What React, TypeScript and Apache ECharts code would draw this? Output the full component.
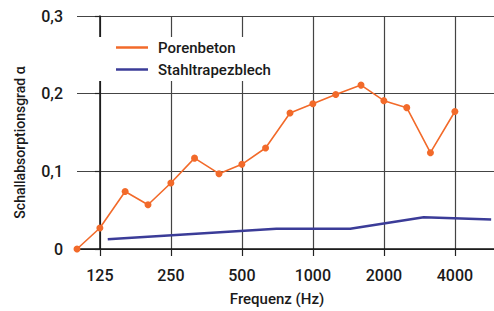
import React, { useEffect, useRef } from "react";
import * as echarts from "echarts";

// Data (1/3-octave band frequencies in Hz, absorption coefficient alpha)
const porenbetonFreq = [100, 125, 160, 200, 250, 315, 400, 500, 630, 800, 1000, 1250, 1600, 2000, 2500, 3150, 4000];
const porenbetonAlpha = [0, 0.027, 0.074, 0.057, 0.085, 0.117, 0.097, 0.109, 0.13, 0.175, 0.187, 0.199, 0.211, 0.191, 0.182, 0.124, 0.177];

const stahlFreq = [135, 700, 1440, 2950, 5700];
const stahlAlpha = [0.0125, 0.026, 0.026, 0.041, 0.038];

const xTickFreqs = [125, 250, 500, 1000, 2000, 4000];
const yTicks = [0, 0.1, 0.2, 0.3];

const seriesNames = ["Porenbeton", "Stahltrapezblech"];

const REF = 125;
const toX = (f: number) => Math.log2(f / REF);

const FONT = "Roboto";
const TEXT = "#1a1a1a";
const ORANGE = "#f26a2a";
const BLUE = "#3b3c98";

export default function App() {
  const ref = useRef<HTMLDivElement>(null);

  useEffect(() => {
    if (!ref.current) return;
    const chart = echarts.init(ref.current, null, { renderer: "svg" });
    const xTicks = xTickFreqs.map(toX);
    chart.setOption({
      animation: false,
      backgroundColor: "#ffffff",
      grid: { left: 77, top: 16, bottom: 55, right: 0, containLabel: false },
      legend: {
        orient: "vertical",
        left: 92,
        top: 37,
        padding: [3, 10, 4, 24],
        backgroundColor: "#ffffff",
        itemWidth: 32,
        itemHeight: 2.5,
        itemGap: 7,
        icon: "rect",
        data: seriesNames,
        textStyle: {
          fontFamily: FONT,
          fontSize: 15,
          fontWeight: 500,
          lineHeight: 15,
          color: TEXT,
          padding: [0, 0, 0, 5],
        },
      },
      xAxis: {
        type: "value",
        min: toX(100),
        max: toX(5860),
        name: "Frequenz (Hz)",
        nameLocation: "middle",
        nameGap: 42,
        nameTextStyle: { fontFamily: FONT, fontSize: 15, fontWeight: 500, color: TEXT, padding: [0, 17, 0, 0] },
        axisLine: { show: true, lineStyle: { color: "#111", width: 1.5 } },
        axisTick: { show: true, customValues: xTicks, length: 7, lineStyle: { color: "#222", width: 1.2 } },
        axisLabel: {
          customValues: xTicks,
          margin: 18,
          fontFamily: FONT,
          fontSize: 16,
          fontWeight: 500,
          color: TEXT,
          formatter: (v: number) => String(Math.round(REF * Math.pow(2, v))),
        },
        splitLine: { show: true, lineStyle: { color: "#444", width: 1.2 } },
      },
      yAxis: {
        type: "value",
        min: yTicks[0],
        max: yTicks[yTicks.length - 1],
        interval: 0.1,
        name: "Schallabsorptionsgrad α",
        nameLocation: "middle",
        nameGap: 50,
        nameTextStyle: { fontFamily: FONT, fontSize: 14, fontWeight: 500, color: TEXT, padding: [0, 20, 0, 0] },
        axisLine: { show: true, lineStyle: { color: "#111", width: 1.5 } },
        axisTick: { show: true, length: 5, lineStyle: { color: "#222", width: 1.2 } },
        axisLabel: {
          margin: 14,
          fontFamily: FONT,
          fontSize: 16,
          fontWeight: 500,
          color: TEXT,
          formatter: (v: number) => (v === 0 ? "0" : v.toFixed(1).replace(".", ",")),
        },
        splitLine: { show: true, lineStyle: { color: "#444", width: 1.2 } },
      },
      series: [
        {
          name: seriesNames[0],
          type: "line",
          data: porenbetonFreq.map((f, i) => [toX(f), porenbetonAlpha[i]]),
          symbol: "circle",
          symbolSize: 7,
          lineStyle: { color: ORANGE, width: 1.6 },
          itemStyle: { color: ORANGE },
          z: 3,
        },
        {
          name: seriesNames[1],
          type: "line",
          data: stahlFreq.map((f, i) => [toX(f), stahlAlpha[i]]),
          symbol: "none",
          showSymbol: false,
          lineStyle: { color: BLUE, width: 2.5 },
          itemStyle: { color: BLUE },
          z: 2,
        },
      ],
    });
    return () => chart.dispose();
  }, []);

  return (
    <div
      ref={ref}
      style={{ position: "fixed", left: 0, top: 0, width: 494, height: 311 }}
    />
  );
}
